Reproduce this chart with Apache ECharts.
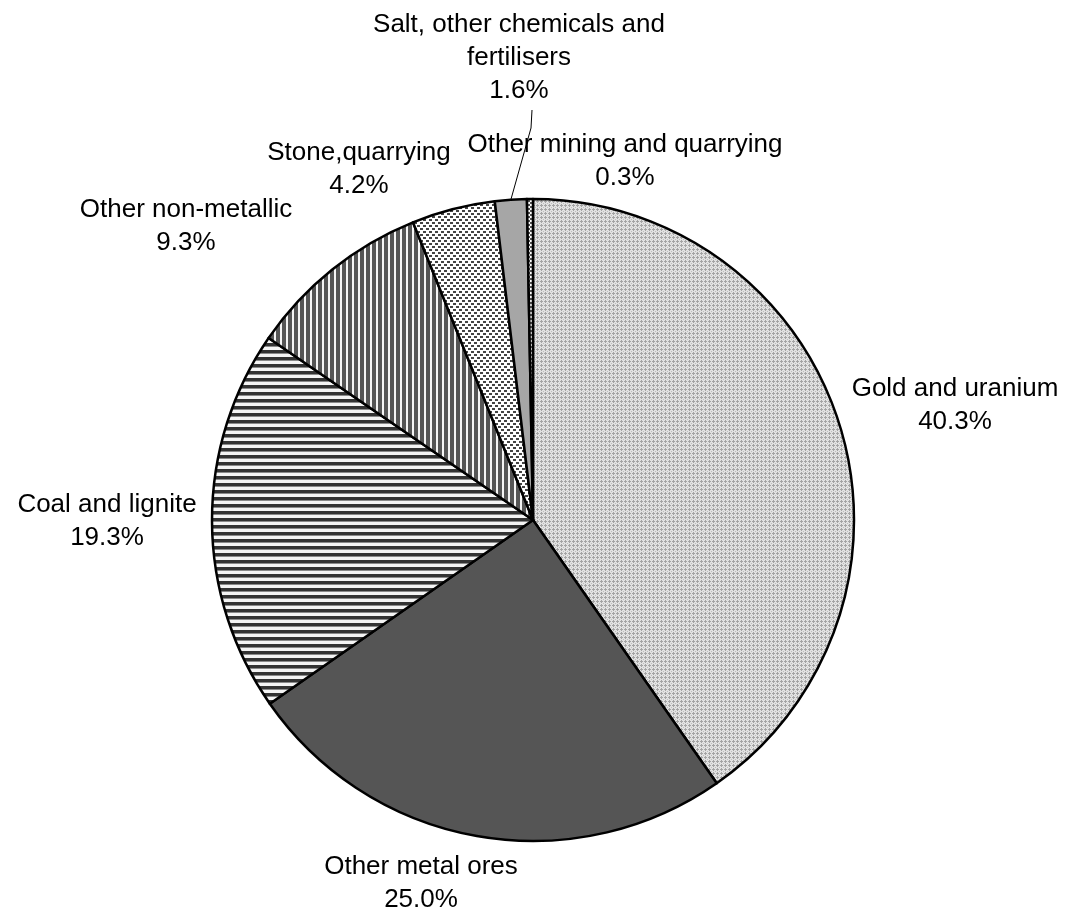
<!DOCTYPE html>
<html>
<head>
<meta charset="utf-8">
<script src="https://cdn.jsdelivr.net/npm/echarts@6/dist/echarts.min.js"></script>
<style>
  html, body { margin: 0; padding: 0; background: #fff; }
  #chart { width: 1068px; height: 916px; }
</style>
</head>
<body>
<div id="chart"></div>
<script>
// ---- data ----
const categories = [
  'Gold and uranium',
  'Other metal ores',
  'Coal and lignite',
  'Other non-metallic',
  'Stone,quarrying',
  'Salt, other chemicals and fertilisers',
  'Other mining and quarrying'
];
const labelTexts = [
  'Gold and uranium',
  'Other metal ores',
  'Coal and lignite',
  'Other non-metallic',
  'Stone,quarrying',
  'Salt, other chemicals and\nfertilisers',
  'Other mining and quarrying'
];
const shares = [40.3, 25.0, 19.3, 9.3, 4.2, 1.6, 0.3];

// ---- layout (label anchor points, not data) ----
const labelAnchors = [
  [955, 405],
  [421, 883],
  [107, 521],
  [186, 226],
  [359, 169],
  [519, 58],
  [625, 161]
];

// ---- fill patterns ----
function tile(w, h, draw) {
  const c = document.createElement('canvas');
  c.width = w; c.height = h;
  const ctx = c.getContext('2d');
  draw(ctx);
  return { image: c, repeat: 'repeat' };
}
const patGold = tile(4, 4, ctx => {
  ctx.fillStyle = '#e2e2e2'; ctx.fillRect(0, 0, 4, 4);
  ctx.fillStyle = '#a4a4a4';
  ctx.fillRect(1, 0, 1, 1); ctx.fillRect(0, 1, 3, 1); ctx.fillRect(1, 2, 1, 1);
  ctx.fillStyle = '#bdbdbd'; ctx.fillRect(3, 3, 1, 1);
});
const patCoal = tile(6, 7, ctx => {
  ctx.fillStyle = '#f4f4f4'; ctx.fillRect(0, 0, 6, 7);
  ctx.fillStyle = '#333333'; ctx.fillRect(0, 0, 6, 3);
  ctx.fillStyle = '#8a8a8a'; ctx.fillRect(0, 3, 6, 1);
});
const patNonMet = tile(6, 6, ctx => {
  ctx.fillStyle = '#f4f4f4'; ctx.fillRect(0, 0, 6, 6);
  ctx.fillStyle = '#555555'; ctx.fillRect(0, 0, 4, 6);
});
const patStone = tile(6, 6, ctx => {
  ctx.fillStyle = '#ffffff'; ctx.fillRect(0, 0, 6, 6);
  ctx.fillStyle = '#444444';
  ctx.fillRect(0, 0, 3, 2); ctx.fillRect(3, 3, 3, 2);
});
const patOther = tile(4, 4, ctx => {
  ctx.fillStyle = '#ffffff'; ctx.fillRect(0, 0, 4, 4);
  ctx.fillStyle = '#555555';
  ctx.fillRect(0, 0, 2, 2); ctx.fillRect(2, 2, 2, 2);
});
const fills = [patGold, '#555555', patCoal, patNonMet, patStone, '#a6a6a6', patOther];

const chart = echarts.init(document.getElementById('chart'), null, { renderer: 'canvas' });

const data = categories.map((name, i) => ({
  name: name,
  value: shares[i],
  itemStyle: { color: fills[i] },
  labelLine: { show: i === 5 }
}));

chart.setOption({
  animation: false,
  backgroundColor: '#ffffff',
  series: [{
    type: 'pie',
    center: [533, 520],
    radius: 321,
    startAngle: 90,
    clockwise: true,
    avoidLabelOverlap: false,
    data: data,
    itemStyle: { borderColor: '#000000', borderWidth: 2.5 },
    emphasis: { disabled: true },
    label: {
      show: true,
      position: 'outside',
      color: '#000000',
      fontFamily: 'Liberation Sans, Arial, sans-serif',
      fontSize: 26,
      lineHeight: 33,
      align: 'center',
      formatter: p => labelTexts[p.dataIndex] + '\n' + p.percent.toFixed(1) + '%'
    },
    labelLine: {
      show: false,
      length: 40,
      length2: 10,
      lineStyle: { color: '#000000', width: 1 }
    },
    labelLayout: function (params) {
      const i = params.dataIndex;
      const a = labelAnchors[i];
      const res = { x: a[0], y: a[1], align: 'center', verticalAlign: 'middle' };
      if (i === 5 && params.labelLinePoints) {
        res.labelLinePoints = [params.labelLinePoints[0], [531, 128], [532, 110]];
      }
      return res;
    }
  }]
});
</script>
</body>
</html>
